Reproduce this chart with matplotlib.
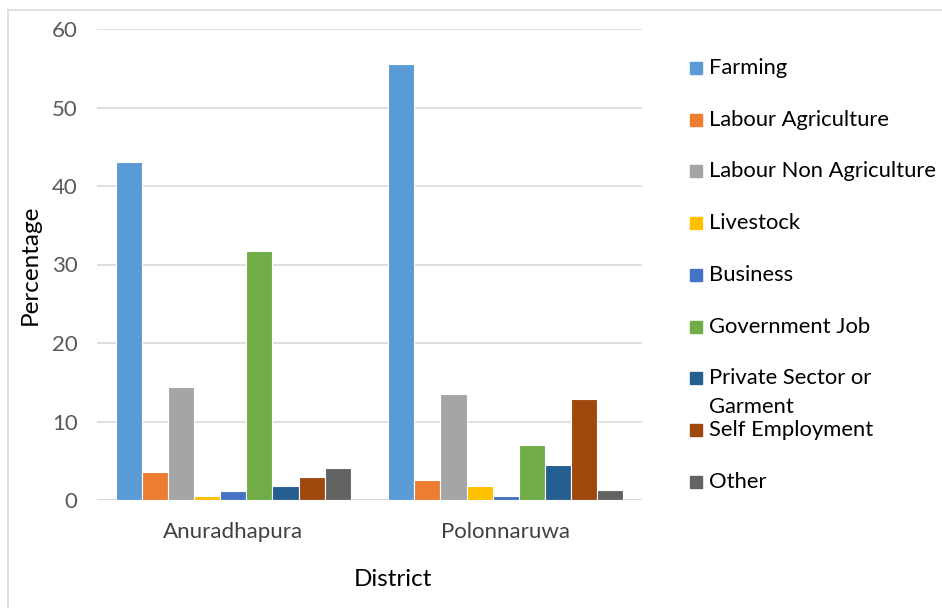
import matplotlib
matplotlib.use('Agg')
import matplotlib.pyplot as plt
from matplotlib.lines import Line2D
from matplotlib.patches import Rectangle
import numpy as np

plt.rcParams['font.family'] = ['Lato', 'DejaVu Sans']

# donnees
districts = ['Anuradhapura', 'Polonnaruwa']
occupations = ['Farming', 'Labour Agriculture', 'Labour Non Agriculture',
               'Livestock', 'Business', 'Government Job',
               'Private Sector or\nGarment', 'Self Employment', 'Other']
anuradhapura = [43.1, 3.6, 14.4, 0.5, 1.1, 31.7, 1.8, 2.9, 4.1]
polonnaruwa = [55.6, 2.5, 13.5, 1.8, 0.5, 7.0, 4.4, 12.9, 1.3]
couleurs = ['#5B9BD5', '#ED7D31', '#A5A5A5', '#FFC000', '#4472C4',
            '#70AD47', '#255E91', '#9E480E', '#636363']

W, H = 942, 608
fig = plt.figure(figsize=(W / 100, H / 100), dpi=100)
ax = fig.add_axes([97 / W, 1 - 500 / H, (642 - 97) / W, (500 - 29) / H])

valeurs = np.array([anuradhapura, polonnaruwa])
x = np.arange(len(districts))
n = len(occupations)
larg = 0.096
for i in range(n):
    ax.bar(x + (i - (n - 1) / 2) * larg, valeurs[:, i], width=larg,
           color=couleurs[i], edgecolor='white', linewidth=0.8, zorder=3)

ax.set_xlim(-0.5, 1.5)
ax.set_ylim(0, 60)
ax.set_yticks(range(0, 61, 10))
ax.set_xticks(x)
ax.set_xticklabels(districts)
ax.tick_params(axis='y', length=0, labelsize=16, colors='#595959', pad=14)
ax.tick_params(axis='x', length=0, labelsize=16, colors='#404040', pad=16)
ax.grid(axis='y', color='#D9D9D9', linewidth=1.2, zorder=0)
for s in ax.spines.values():
    s.set_visible(False)
ax.axhline(0, color='#D9D9D9', linewidth=1.5, zorder=2)

fig.text(30 / W, 1 - 265 / H, 'Percentage', rotation=90, ha='center',
         va='center', fontsize=17.5, color='black')
fig.text(393 / W, 1 - 580 / H, 'District', ha='center', va='center',
         fontsize=17.5, color='black')

# legende dessinee a la main
y0 = 68
pas = 51.7
taille = 15.8
for i, (lab, c) in enumerate(zip(occupations, couleurs)):
    yc = y0 + i * pas
    fig.patches.append(Rectangle((690 / W, 1 - (yc + 6) / H), 12 / W, 12 / H,
                                 transform=fig.transFigure, color=c))
    if '\n' in lab:
        l1, l2 = lab.split('\n')
        fig.text(709 / W, 1 - yc / H, l1, va='center', fontsize=taille)
        fig.text(709 / W, 1 - (yc + 29) / H, l2, va='center', fontsize=taille)
    else:
        fig.text(709 / W, 1 - yc / H, lab, va='center', fontsize=taille)

# cadre
fig.add_artist(Line2D([8 / W, 8 / W], [0, 1 - 10 / H], color='#D9D9D9',
                      linewidth=1.2, transform=fig.transFigure))
fig.add_artist(Line2D([8 / W, 1], [1 - 10 / H, 1 - 10 / H], color='#D9D9D9',
                      linewidth=1.2, transform=fig.transFigure))

fig.savefig('out.png', dpi=100)
